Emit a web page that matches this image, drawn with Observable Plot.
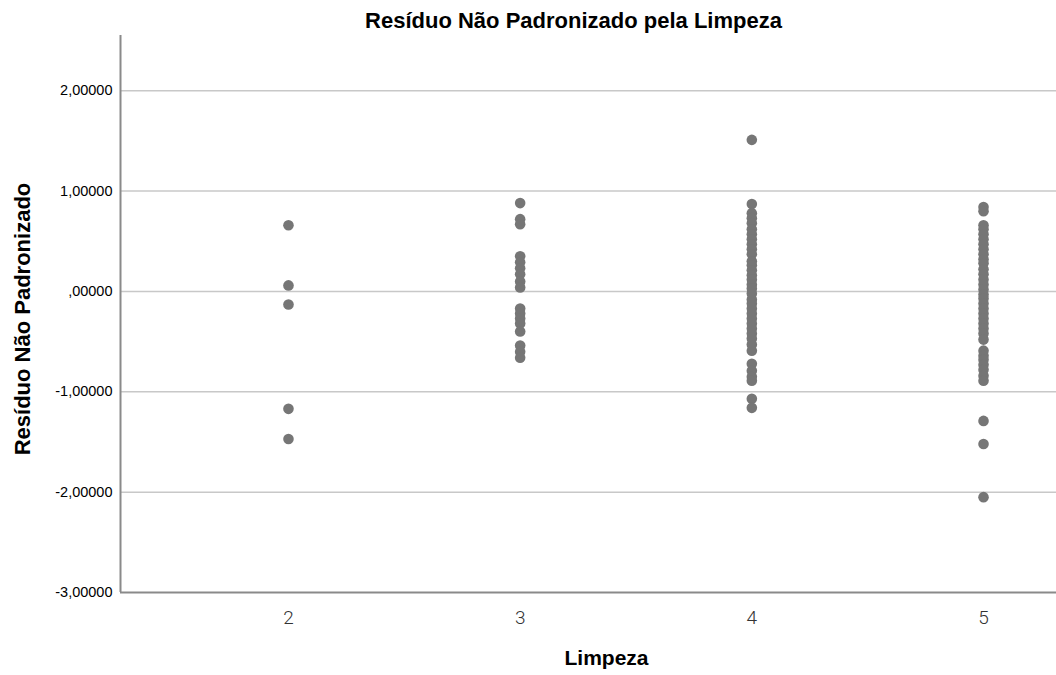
<!DOCTYPE html>
<html>
<head>
<meta charset="utf-8">
<script src="https://cdn.jsdelivr.net/npm/d3@7"></script>
<script src="https://cdn.jsdelivr.net/npm/@observablehq/plot@0.6"></script>
<style>
  html, body { margin: 0; padding: 0; background: #fff; }
  #chart svg { display: block; }
</style>
</head>
<body>
<div id="chart"></div>
<script>
const title = "Resíduo Não Padronizado pela Limpeza";
const xLabel = "Limpeza";
const yLabel = "Resíduo Não Padronizado";
const xTicks = [2, 3, 4, 5];
const yTicks = [-3, -2, -1, 0, 1, 2];
const gridValues = [-2, -1, 0, 1, 2];

const limpeza2 = [0.66, 0.06, -0.13, -1.17, -1.47];
const limpeza3 = [0.88, 0.72, 0.67, 0.35, 0.29, 0.23, 0.17, 0.10, 0.04, -0.17, -0.22, -0.27, -0.32, -0.40, -0.54, -0.60, -0.66];
const limpeza4 = [1.51, 0.87, 0.78, 0.73, 0.68, 0.62, 0.57, 0.52, 0.47, 0.42, 0.37, 0.30, 0.26, 0.21, 0.16, 0.12, 0.07, 0.03, -0.02, -0.08, -0.12, -0.17, -0.22, -0.27, -0.32, -0.37, -0.42, -0.47, -0.53, -0.59, -0.72, -0.79, -0.85, -0.89, -1.07, -1.16];
const limpeza5 = [0.84, 0.80, 0.66, 0.62, 0.57, 0.52, 0.47, 0.42, 0.37, 0.32, 0.28, 0.22, 0.17, 0.12, 0.07, 0.02, -0.03, -0.07, -0.12, -0.17, -0.22, -0.27, -0.32, -0.37, -0.42, -0.48, -0.59, -0.64, -0.68, -0.73, -0.78, -0.84, -0.89, -1.29, -1.52, -2.05];

const data = [
  ...limpeza2.map(v => ({x: 2, y: v})),
  ...limpeza3.map(v => ({x: 3, y: v})),
  ...limpeza4.map(v => ({x: 4, y: v})),
  ...limpeza5.map(v => ({x: 5, y: v}))
];

const xDomain = [1.275, 5.315];
const yDomain = [-3, 2.55];
const fmt = d => d === 0 ? ",00000" : d.toFixed(5).replace(".", ",");

const chart = Plot.plot({
  width: 1056,
  height: 675,
  marginLeft: 120,
  marginRight: 0,
  marginTop: 35,
  marginBottom: 83,
  style: {fontFamily: "Liberation Sans, Arial, sans-serif", background: "#fff"},
  x: {domain: xDomain, axis: null},
  y: {domain: yDomain, axis: null},
  marks: [
    Plot.ruleY(gridValues, {stroke: "#c8c8c8", strokeWidth: 1.5}),
    Plot.ruleX([xDomain[0]], {stroke: "#8a8a8a", strokeWidth: 2}),
    Plot.ruleY([yDomain[0]], {stroke: "#8a8a8a", strokeWidth: 2}),
    Plot.text(yTicks, {x: xDomain[0], y: d => d, text: fmt, textAnchor: "end", dx: -8, fontSize: 14.5, fill: "#000"}),
    Plot.text(xTicks, {x: d => d, y: yDomain[0], text: d => String(d), dy: 25, fontSize: 19, fill: "#333", fontWeight: 300, fontFamily: "Roboto, Liberation Sans, sans-serif"}),
    Plot.dot(data, {x: "x", y: "y", r: 5.3, fill: "#767676", stroke: "none"}),
    Plot.text([title], {frameAnchor: "top", dx: -15, dy: -23, fontSize: 22, fontWeight: "bold", fill: "#000"}),
    Plot.text([xLabel], {frameAnchor: "bottom", dx: 18, dy: 72, fontSize: 21, fontWeight: "bold", fill: "#000"}),
    Plot.text([yLabel], {frameAnchor: "left", textAnchor: "middle", dx: -98, dy: 5, rotate: -90, fontSize: 22, fontWeight: "bold", fill: "#000"})
  ]
});
document.getElementById("chart").append(chart);
</script>
</body>
</html>
